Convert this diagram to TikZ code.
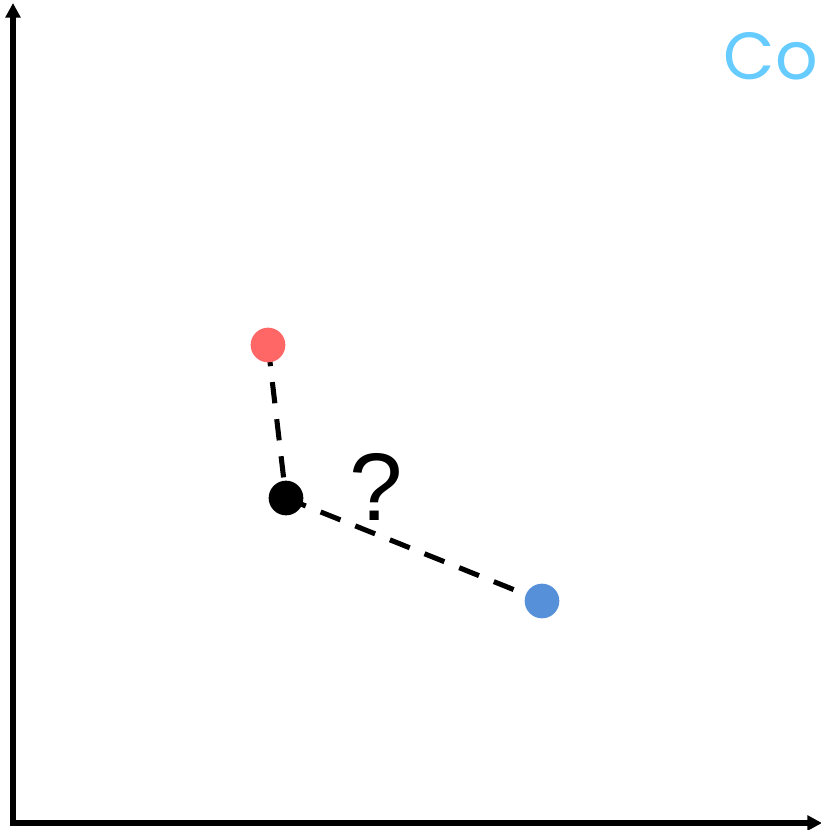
\documentclass[tikz,border=0pt]{standalone}
\usepackage{fontspec}
\setmainfont{Liberation Sans}
\newfontfamily\cofont{Poppins}
\usetikzlibrary{arrows.meta}
\definecolor{ptred}{HTML}{FF6666}
\definecolor{ptblue}{HTML}{5590D9}
\definecolor{cocol}{HTML}{66CCFF}
\begin{document}
\begin{tikzpicture}[x=0.75pt,y=-0.75pt,
  axis/.style={line width=3.8pt,-{Triangle[length=11pt,width=11pt]}},
  dot/.style={circle,inner sep=0pt,minimum size=26pt},
  link/.style={line width=3.8pt,dash pattern=on 16pt off 12pt}]
\useasboundingbox (0,0) rectangle (820,830);
\coordinate (o) at (13,823);
\coordinate (ytop) at (13,3);
\coordinate (xend) at (822,823);
\draw[axis] (13,826) -- (ytop);
\draw[axis] (10,823) -- (xend);
\node[dot] (r) at (268,345) {};
\node[dot] (k) at (286,498) {};
\node[dot] (b) at (542,601) {};
\draw[link] (r.center) -- (k.center);
\draw[link] (k.center) -- (b.center);
\node[dot,fill=ptred] at (r) {};
\node[dot,fill=black] at (k) {};
\node[dot,fill=ptblue] at (b) {};
\node[font=\fontsize{72}{72}\selectfont,inner sep=0pt] (q) at (376,487) {?};
\node[font=\cofont\fontsize{50}{50}\selectfont,text=cocol,inner sep=0pt,anchor=base east] (co) at (818,80) {Co};
\end{tikzpicture}
\end{document}
